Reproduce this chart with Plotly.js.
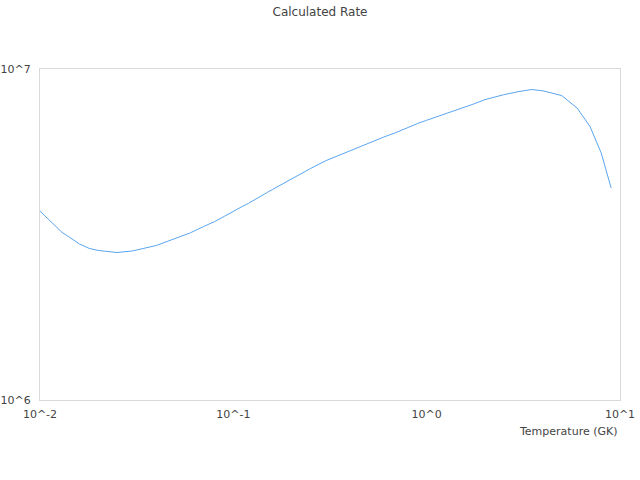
<!DOCTYPE html>
<html>
<head>
<meta charset="utf-8">
<script src="https://cdn.plot.ly/plotly-3.0.1.min.js"></script>
<style>html,body{margin:0;padding:0;background:#fff;}#chart{width:640px;height:480px;}</style>
</head>
<body>
<div id="chart"></div>
<script>
var temperature = [0.01, 0.011, 0.012, 0.013, 0.014, 0.015, 0.016, 0.018, 0.02, 0.025, 0.03, 0.04, 0.05, 0.06, 0.07, 0.08, 0.09, 0.1, 0.11, 0.12, 0.13, 0.14, 0.15, 0.16, 0.18, 0.2, 0.25, 0.3, 0.35, 0.4, 0.45, 0.5, 0.6, 0.7, 0.8, 0.9, 1.0, 1.25, 1.5, 1.75, 2, 2.5, 3, 3.5, 4, 5, 6, 7, 8, 9];
var rate = [3.72e6, 3.52e6, 3.35e6, 3.21e6, 3.12e6, 3.03e6, 2.96e6, 2.87e6, 2.83e6, 2.79e6, 2.82e6, 2.93e6, 3.07e6, 3.20e6, 3.34e6, 3.46e6, 3.59e6, 3.72e6, 3.83e6, 3.93e6, 4.03e6, 4.14e6, 4.24e6, 4.33e6, 4.50e6, 4.66e6, 5.00e6, 5.28e6, 5.48e6, 5.67e6, 5.82e6, 5.97e6, 6.23e6, 6.44e6, 6.67e6, 6.85e6, 7.00e6, 7.32e6, 7.58e6, 7.84e6, 8.08e6, 8.36e6, 8.55e6, 8.67e6, 8.59e6, 8.31e6, 7.62e6, 6.70e6, 5.57e6, 4.37e6];
var xTickVals = [0.01, 0.1, 1, 10];
var xTickText = ["10^-2", "10^-1", "10^0", "10^1"];
var yTickVals = [1e6, 1e7];
var yTickText = ["10^6", "10^7"];

var font = {family: "DejaVu Sans, Verdana, sans-serif", size: 11, color: "#444"};
Plotly.newPlot("chart", [{
  x: temperature, y: rate, type: "scatter", mode: "lines",
  line: {color: "#5aa6f0", width: 1}, hoverinfo: "none"
}], {
  width: 640, height: 480,
  margin: {l: 40, r: 20, t: 69, b: 80, pad: 0},
  paper_bgcolor: "#fff", plot_bgcolor: "#fff",
  font: font,
  showlegend: false,
  title: {text: "Calculated Rate", x: 0.5, xanchor: "center", y: 0.975, yanchor: "middle",
          font: {family: font.family, size: 12, color: "#444"}},
  xaxis: {type: "log", range: [-2, 1], tickvals: xTickVals, ticktext: xTickText,
          showgrid: false, zeroline: false, showline: true, linecolor: "#d9d9d9", linewidth: 1,
          mirror: true, ticks: "", tickfont: font, ticklabelstandoff: 4},
  yaxis: {type: "log", range: [6, 7], tickvals: yTickVals, ticktext: yTickText,
          showgrid: false, zeroline: false, showline: true, linecolor: "#d9d9d9", linewidth: 1,
          mirror: true, ticks: "", tickfont: font, ticklabelstandoff: 6},
  annotations: [{text: "Temperature (GK)", xref: "paper", yref: "paper", x: 1, y: -0.096,
                 xanchor: "right", yanchor: "middle", showarrow: false, font: font}]
}, {staticPlot: true, displayModeBar: false});
</script>
</body>
</html>
